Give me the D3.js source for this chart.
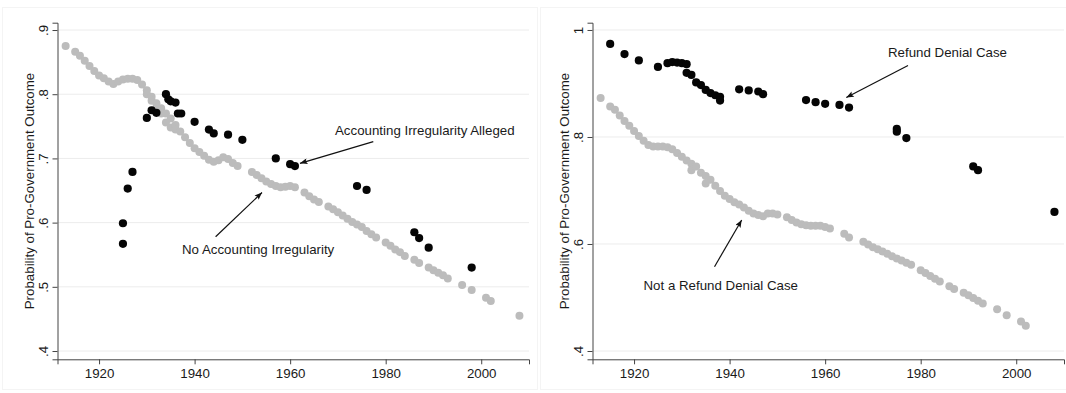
<!DOCTYPE html>
<html>
<head>
<meta charset="utf-8">
<script src="https://cdn.jsdelivr.net/npm/d3@7"></script>
<style>
  html, body { margin: 0; padding: 0; background: #fff; }
  svg { display: block; font-family: "Liberation Sans", Arial, Helvetica, sans-serif; }
</style>
</head>
<body>
<div id="chart"></div>
<script>
// x axis ticks shared by both panels
const xTicks = [1920, 1940, 1960, 1980, 2000];
const yTicksLeft = [0.4, 0.5, 0.6, 0.7, 0.8, 0.9];
const yTicksRight = [0.4, 0.6, 0.8, 1.0];
const yTitle = "Probability of Pro-Government Outcome";

// left panel: no accounting irregularity (gray)
const noAcctYears = [1913,1915,1916,1917,1918,1919,1920,1921,1922,1923,1924,1925,1926,1927,1928,1929,
  1930,1930,1931,1931,1932,1932,1933,1933,1934,1934,1935,1935,1936,1936,1937,1938,1939,1940,1941,1942,
  1943,1944,1945,1946,1947,1948,1949,1952,1953,1954,1955,1956,1957,1958,1959,1960,1961,1963,1964,1965,
  1966,1968,1969,1970,1971,1972,1973,1974,1975,1976,1977,1978,1980,1981,1982,1983,1984,1986,1987,1989,
  1990,1991,1992,1993,1996,1998,2001,2002,2008];
const noAcctVals = [.875,.866,.860,.852,.844,.836,.829,.825,.820,.816,.820,.823,.824,.824,.822,.815,
  .806,.800,.796,.790,.786,.779,.778,.770,.770,.756,.762,.748,.752,.745,.742,.733,.724,.716,.710,.704,
  .698,.695,.697,.702,.699,.693,.688,.679,.674,.669,.664,.660,.657,.655,.656,.657,.655,.647,.641,.636,
  .632,.625,.621,.616,.611,.606,.601,.597,.593,.587,.582,.577,.569,.564,.558,.554,.548,.542,.537,.530,
  .526,.522,.518,.513,.503,.495,.483,.478,.455];

// left panel: accounting irregularity alleged (black)
const acctYears = [1925,1925,1926,1927,1930,1931,1932,1934,1934.5,1935,1936,1936.5,1937.2,1940,1943,1944,
  1947,1950,1957,1960,1961,1974,1976,1986,1987,1989,1998];
const acctVals = [.599,.567,.653,.679,.763,.775,.771,.800,.792,.789,.787,.770,.770,.757,.745,.739,
  .737,.729,.700,.691,.688,.657,.651,.585,.576,.561,.530];

// right panel: not a refund denial case (gray)
const noRefundYears = [1913,1915,1916,1917,1918,1919,1920,1921,1922,1923,1924,1925,1926,1927,1928,1929,
  1930,1931,1932,1932,1933,1934,1935,1935,1936,1937,1938,1939,1940,1941,1942,1943,1944,1945,1946,1947,
  1948,1949,1950,1952,1953,1954,1955,1956,1957,1958,1959,1960,1961,1964,1965,1968,1969,1970,1971,1972,
  1973,1974,1975,1976,1977,1978,1980,1981,1982,1983,1984,1986,1987,1989,1990,1991,1992,1993,1996,1998,
  2001,2002];
const noRefundVals = [.873,.857,.851,.840,.830,.821,.811,.802,.793,.785,.782,.782,.782,.781,.777,.770,
  .763,.756,.750,.738,.745,.733,.727,.713,.720,.709,.699,.690,.684,.678,.674,.668,.662,.657,.654,.652,
  .657,.657,.655,.650,.645,.640,.637,.635,.634,.634,.634,.632,.629,.619,.612,.604,.599,.594,.590,.586,
  .582,.577,.573,.569,.565,.561,.551,.546,.540,.535,.530,.521,.516,.509,.504,.499,.494,.489,.478,.467,
  .455,.447];

// right panel: refund denial case (black)
const refundYears = [1915,1918,1921,1925,1927,1928,1929,1930,1931,1931,1932,1933,1934,1935,1936,1937,
  1938,1938,1942,1944,1946,1947,1956,1958,1960,1963,1965,1975,1975,1977,1991,1992,2008];
const refundVals = [.974,.955,.943,.931,.938,.940,.939,.938,.936,.920,.916,.902,.897,.888,.882,.878,
  .875,.868,.889,.887,.885,.880,.869,.865,.862,.860,.855,.815,.810,.798,.745,.738,.660];

const W = 1066, H = 393;
const svg = d3.select("#chart").append("svg").attr("width", W).attr("height", H);

svg.append("defs").append("marker")
  .attr("id", "arrow")
  .attr("viewBox", "0 -4 10 8")
  .attr("refX", 10).attr("refY", 0)
  .attr("markerWidth", 9).attr("markerHeight", 6)
  .attr("markerUnits", "userSpaceOnUse")
  .attr("orient", "auto")
  .append("path")
  .attr("d", "M0,-4L10,0L0,4L2,0Z")
  .attr("fill", "#111");

// faint panel frames
svg.append("rect").attr("x", 2.5).attr("y", 7.5).attr("width", 535).attr("height", 382)
  .attr("fill", "none").attr("stroke", "#f4f4f4");
svg.append("rect").attr("x", 540.5).attr("y", 7.5).attr("width", 530).attr("height", 382)
  .attr("fill", "none").attr("stroke", "#f4f4f4");

function drawPanel(p) {
  const x = d3.scaleLinear().domain([1911.3, 2010]).range([p.x0, p.x0 + 471.5]);
  const y = d3.scaleLinear().domain(p.yDomain).range([359.3, 22.7]);
  const g = svg.append("g");

  // gridlines
  g.selectAll(".grid").data(p.yTicks).enter().append("line")
    .attr("x1", p.x0).attr("x2", p.x0 + 471.5)
    .attr("y1", d => y(d)).attr("y2", d => y(d))
    .attr("stroke", "#ececec").attr("stroke-width", 1);

  const fmt = d => d === 1 ? "1" : d3.format(".1f")(d).replace(/^0/, "");

  // x axis
  const xa = g.append("g").attr("transform", "translate(0,359.3)")
    .call(d3.axisBottom(x).tickValues(xTicks).tickFormat(d3.format("d")).tickSizeOuter(0).tickSize(5).tickPadding(4.5));
  xa.select(".domain").attr("stroke", "#444");
  xa.selectAll(".tick line").attr("stroke", "#444");
  xa.selectAll("text").attr("font-size", 13.3).attr("fill", "#1a1a1a").attr("font-family", null);

  // y axis
  const ya = g.append("g").attr("transform", `translate(${p.x0},0)`)
    .call(d3.axisLeft(y).tickValues(p.yTicks).tickFormat(fmt).tickSizeOuter(0).tickSize(5));
  ya.select(".domain").attr("stroke", "#444");
  ya.selectAll(".tick line").attr("stroke", "#444");
  ya.selectAll("text")
    .attr("x", null).attr("dy", null)
    .attr("transform", "translate(-10,0) rotate(-90)")
    .attr("text-anchor", "middle")
    .attr("font-size", 13.3).attr("fill", "#1a1a1a").attr("font-family", null);

  // axis title
  g.append("text")
    .attr("transform", `translate(${p.x0 - 23.5},191) rotate(-90)`)
    .attr("text-anchor", "middle").attr("font-size", 13.3).attr("fill", "#1a1a1a")
    .text(yTitle);

  // points
  g.selectAll(".gray").data(d3.range(p.grayYears.length)).enter().append("circle")
    .attr("cx", i => x(p.grayYears[i])).attr("cy", i => y(p.grayVals[i]))
    .attr("r", 4).attr("fill", "#bcbcbc");
  g.selectAll(".black").data(d3.range(p.blackYears.length)).enter().append("circle")
    .attr("cx", i => x(p.blackYears[i])).attr("cy", i => y(p.blackVals[i]))
    .attr("r", 4.1).attr("fill", "#050505");

  // annotations
  p.notes.forEach(n => {
    g.append("text").attr("x", n.tx).attr("y", n.ty).attr("font-size", 13.3).attr("fill", "#1a1a1a").text(n.text);
    g.append("line").attr("x1", n.a[0]).attr("y1", n.a[1]).attr("x2", n.a[2]).attr("y2", n.a[3])
      .attr("stroke", "#111").attr("stroke-width", 1.2).attr("marker-end", "url(#arrow)");
  });
}

drawPanel({
  x0: 57.5, yDomain: [0.3871, 0.9114], yTicks: yTicksLeft,
  grayYears: noAcctYears, grayVals: noAcctVals,
  blackYears: acctYears, blackVals: acctVals,
  notes: [
    { text: "Accounting Irregularity Alleged", tx: 335, ty: 134.5, a: [373.3, 141.7, 300, 163.3] },
    { text: "No Accounting Irregularity", tx: 182, ty: 254, a: [215.6, 236.7, 262, 192.5] }
  ]
});

drawPanel({
  x0: 592.5, yDomain: [0.3845, 1.0136], yTicks: yTicksRight,
  grayYears: noRefundYears, grayVals: noRefundVals,
  blackYears: refundYears, blackVals: refundVals,
  notes: [
    { text: "Refund Denial Case", tx: 888, ty: 57.4, a: [908, 65.5, 846.3, 97.5] },
    { text: "Not a Refund Denial Case", tx: 643.5, ty: 289.7, a: [714.5, 266.7, 741.7, 220] }
  ]
});
</script>
</body>
</html>
